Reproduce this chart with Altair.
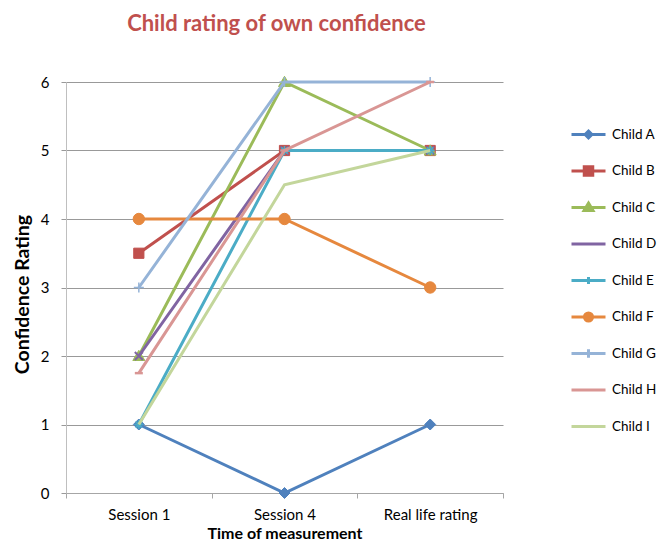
import altair as alt
import pandas as pd

sessions = ["Session 1", "Session 4", "Real life rating"]
children = ["Child A", "Child B", "Child C", "Child D", "Child E",
            "Child F", "Child G", "Child H", "Child I"]
child_a = [1, 0, 1]
child_b = [3.5, 5, 5]
child_c = [2, 6, 5]
child_d = [2, 5, 5]
child_e = [1, 5, 5]
child_f = [4, 4, 3]
child_g = [3, 6, 6]
child_h = [1.75, 5, 6]
child_i = [1, 4.5, 5]
series = [child_a, child_b, child_c, child_d, child_e, child_f, child_g, child_h, child_i]
colors = ["#4F81BD", "#C0504D", "#9BBB59", "#8064A2", "#4BACC6",
          "#E6883E", "#95B3D7", "#D99694", "#C3D69B"]

# marker style per series: (path, size, strokeWidth)
markers = [
    ("M0,-1L1,0L0,1L-1,0Z", 121, 1),
    ("M-0.85,-0.85H0.85V0.85H-0.85Z", 144, 1),
    ("M0,-0.95L1,0.75H-1Z", 144, 1),
    ("M-1,-1L1,1M-1,1L1,-1", 64, 2),
    ("M-1,0H1M0,-1V1M-0.7,-0.7L0.7,0.7M-0.7,0.7L0.7,-0.7", 81, 1.5),
    ("M0.95,0A0.95,0.95,0,1,1,-0.95,0A0.95,0.95,0,1,1,0.95,0Z", 144, 1),
    ("M-1,0H1M0,-1V1", 100, 1.5),
    ("M-1,0H1", 64, 2.5),
    None,
]
legend_paths = [
    "M-1,0H1M0,-0.2L0.2,0L0,0.2L-0.2,0ZM0,-0.08L0.08,0L0,0.08L-0.08,0Z",
    "M-1,0H1M-0.25,-0.25H0.25V0.25H-0.25ZM-0.11,-0.11H0.11V0.11H-0.11Z",
    "M-1,0H1M0,-0.26L0.26,0.17H-0.26ZM0,-0.1L0.1,0.07H-0.1Z",
    "M-1,0H1",
    "M-1,0H1M0,-0.2V0.2",
    "M-1,0H1M0.24,0A0.24,0.24,0,1,1,-0.24,0A0.24,0.24,0,1,1,0.24,0ZM0.1,0A0.1,0.1,0,1,1,-0.1,0A0.1,0.1,0,1,1,0.1,0Z",
    "M-1,0H1M0,-0.25V0.25",
    "M-1,0H1",
    "M-1,0H1",
]

rows = []
for c, vals in zip(children, series):
    for s, v in zip(sessions, vals):
        rows.append({"child": c, "session": s, "rating": v})
df = pd.DataFrame(rows)

FONT = "Lato"
x_enc = alt.X(
    "session:N", sort=sessions, bandPosition=0.5,
    scale=alt.Scale(type="band", domain=sessions, paddingInner=0, paddingOuter=0),
    axis=alt.Axis(title="Time of measurement", labelAngle=0, tickBand="extent",
                  grid=False, domainColor="#A6A6A6", tickColor="#A6A6A6",
                  tickSize=5, labelPadding=9, labelFont=FONT, labelFontSize=15,
                  labelColor="black", titleFont=FONT, titleFontSize=16,
                  titleFontWeight="bold", titleColor="black",
                  titleX=218.5, titleY=40, titleBaseline="middle"),
)
y_enc = alt.Y(
    "rating:Q",
    scale=alt.Scale(domain=[0, 6], nice=False),
    axis=alt.Axis(title="Confidence  Rating", values=[0, 1, 2, 3, 4, 5, 6],
                  grid=True, gridColor="#999999", domainColor="#BFBFBF",
                  tickColor="#999999", tickSize=5, labelPadding=12,
                  labelFont=FONT, labelFontSize=15, labelColor="black",
                  titleFont=FONT, titleFontSize=19.5, titleFontWeight="bold",
                  titleColor="black", titleX=-38, titleY=212,
                  titleBaseline="alphabetic"),
)

base = alt.Chart(df).encode(x=x_enc, y=y_enc)

legend_layer = base.mark_point(opacity=0, filled=False, strokeWidth=3).encode(
    color=alt.Color("child:N", scale=alt.Scale(domain=children, range=colors),
                    legend=alt.Legend(title=None)),
    shape=alt.Shape("child:N", scale=alt.Scale(domain=children, range=legend_paths),
                    legend=alt.Legend(title=None)),
)

layers = [legend_layer]
for c, col, mk in zip(children, colors, markers):
    sub = base.transform_filter(alt.datum.child == c)
    layers.append(sub.mark_line(color=col, strokeWidth=3))
    if mk is not None:
        path, size, sw = mk
        layers.append(sub.mark_point(shape=path, filled=True, fill=col, stroke=col,
                                     strokeWidth=sw, size=size, opacity=1))

chart = alt.layer(*layers).properties(
    width=437, height=411,
    title=alt.TitleParams(text="Child rating of own confidence", font=FONT,
                          fontSize=22, fontWeight="bold", color="#C0504D",
                          anchor="middle", dx=-8, offset=38, frame="group"),
    autosize=alt.AutoSizeParams(type="none"),
    padding={"left": 58, "top": 74, "right": 155, "bottom": 48},
).configure_view(stroke=None).configure_legend(
    orient="none", legendX=504, legendY=34, padding=0, rowPadding=7.5,
    gridAlign="all",
    symbolSize=1156, symbolStrokeWidth=3, symbolOpacity=1,
    labelFont=FONT, labelFontSize=13.5, labelColor="black", labelOffset=5,
)

chart.save("out.html", embed_options={"renderer": "svg", "actions": False})
